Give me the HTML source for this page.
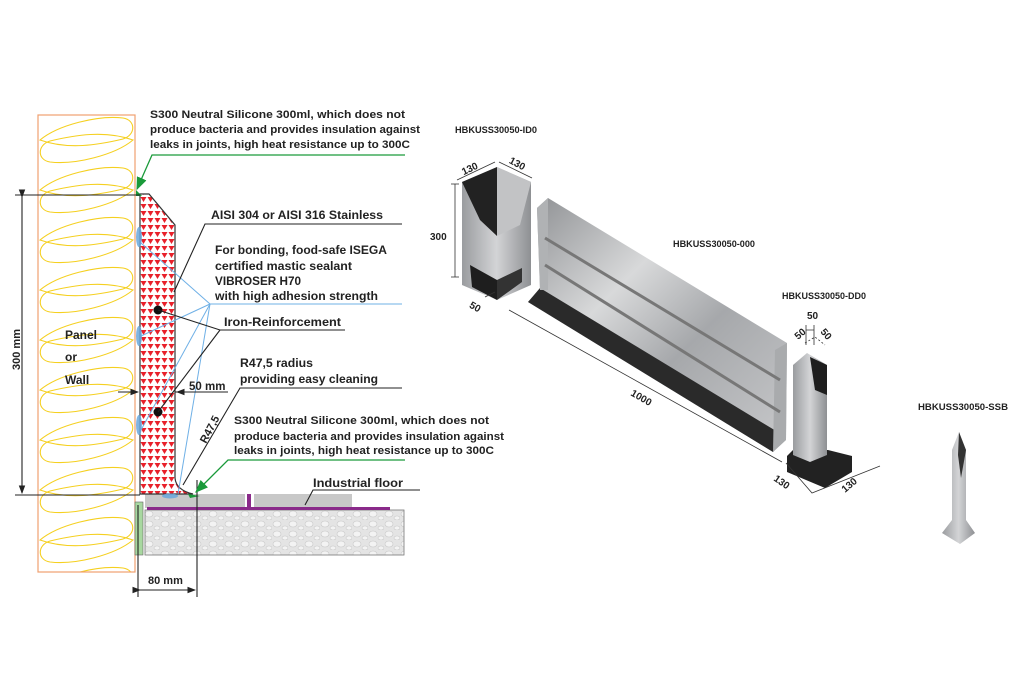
<!DOCTYPE html>
<html><head><meta charset="utf-8"><style>
html,body{margin:0;padding:0;background:#fff}
svg{display:block}
text{font-family:"Liberation Sans",sans-serif;font-weight:bold;fill:#222}
</style></head><body>
<svg width="1018" height="700" viewBox="0 0 1018 700" xmlns="http://www.w3.org/2000/svg">
<defs>
<pattern id="tri" width="7" height="7" patternUnits="userSpaceOnUse">
<rect width="7" height="7" fill="#fff"/><path d="M0.5 1 L6.5 1 L3.5 6 Z" fill="#e8202a"/>
</pattern>
<pattern id="stone" width="16" height="10" patternUnits="userSpaceOnUse">
<rect width="16" height="10" fill="#e4e4e4"/><ellipse cx="5" cy="4" rx="4" ry="3" fill="#f3f3f3" stroke="#c9c9c9" stroke-width="0.6"/><ellipse cx="13" cy="8" rx="3" ry="2" fill="#f3f3f3" stroke="#c9c9c9" stroke-width="0.6"/>
</pattern>
<pattern id="ins" x="38" y="115" width="97" height="50" patternUnits="userSpaceOnUse">
<path d="M2 25 C20 10 60 0 85 3 C98 5 98 20 85 24 C60 30 30 35 2 25 Z" fill="none" stroke="#f5d020" stroke-width="1.1"/>
<path d="M95 25 C77 40 37 50 12 47 C-1 45 -1 30 12 26 C37 20 67 15 95 25 Z" fill="none" stroke="#f5d020" stroke-width="1.1"/>
</pattern>
<linearGradient id="steel" x1="0" y1="0" x2="1" y2="1">
<stop offset="0" stop-color="#8d8f92"/><stop offset="0.35" stop-color="#d8d9da"/><stop offset="0.6" stop-color="#a6a8ab"/><stop offset="1" stop-color="#c8c9cb"/>
</linearGradient>
<linearGradient id="steel2" x1="0" y1="0" x2="1" y2="0">
<stop offset="0" stop-color="#9a9c9f"/><stop offset="0.5" stop-color="#d3d4d6"/><stop offset="1" stop-color="#8e9093"/>
</linearGradient>
<marker id="ah" markerWidth="8" markerHeight="8" refX="7" refY="4" orient="auto"><path d="M0 1 L8 4 L0 7 Z" fill="#222"/></marker>
<marker id="ag" markerWidth="10" markerHeight="10" refX="9" refY="5" orient="auto"><path d="M0 1 L10 5 L0 9 Z" fill="#1a9a3a"/></marker>
</defs>

<!-- panel -->
<rect x="38" y="115" width="97" height="457" fill="url(#ins)" stroke="#f0a070" stroke-width="1.2"/>
<text x="65" y="339" font-size="12">Panel</text>
<text x="65" y="361" font-size="12">or</text>
<text x="65" y="384" font-size="12">Wall</text>

<!-- floor -->
<rect x="145" y="510" width="259" height="45" fill="url(#stone)" stroke="#777" stroke-width="0.8"/>
<rect x="135" y="502" width="8" height="53" fill="#a8d8a0" stroke="#666" stroke-width="0.6"/>
<rect x="145" y="494" width="100" height="14" fill="#c8c8c8"/>
<rect x="254" y="494" width="98" height="14" fill="#c8c8c8"/>
<rect x="147" y="507" width="243" height="3" fill="#8a2a8a"/>
<rect x="247" y="494" width="4" height="14" fill="#8a2a8a"/>

<!-- profile -->
<path d="M140 194 L149 194 L175 225 L175 478 Q176 490 193 494 L140 494 Z" fill="url(#tri)" stroke="#333" stroke-width="1.2"/>
<g fill="#6aa8dc" opacity="0.85">
<ellipse cx="139" cy="237" rx="3" ry="10"/><ellipse cx="139" cy="336" rx="3" ry="10"/><ellipse cx="139" cy="425" rx="3" ry="10"/><ellipse cx="170" cy="496" rx="8" ry="2.5"/>
</g>
<path d="M136 190 L142 196 L136 196 Z" fill="#1a9a3a"/>
<path d="M188 494 L200 496 L190 498 Z" fill="#1a9a3a"/>
<circle cx="158" cy="310" r="4.5" fill="#111"/><circle cx="158" cy="412" r="4.5" fill="#111"/>

<!-- blue leaders -->
<g stroke="#6fb0e6" stroke-width="1" fill="none">
<path d="M402 304 L210 304 L141 243"/><path d="M210 304 L141 336"/><path d="M210 304 L141 430"/><path d="M210 304 L178 494"/>
</g>

<!-- black leaders -->
<g stroke="#222" stroke-width="1.1" fill="none">
<path d="M402 224 L205 224 L174 292"/>
<path d="M345 330 L220 330 L158 310"/><path d="M220 330 L158 412"/>
<path d="M402 388 L240 388 L183 485"/>
<path d="M420 490 L313 490 L305 505"/>
<path d="M15 195 L140 195"/><path d="M15 495 L140 495"/>
<path d="M22 197 L22 493" marker-start="url(#ah)" marker-end="url(#ah)"/>
<path d="M118 392 L138 392" marker-end="url(#ah)"/><path d="M195 392 L177 392" marker-end="url(#ah)"/><path d="M175 392 L228 392"/>
<path d="M138 505 L138 597"/><path d="M197 480 L197 597"/>
<path d="M140 590 L195 590" marker-start="url(#ah)" marker-end="url(#ah)"/>
</g>
<g stroke="#1a9a3a" stroke-width="1.3" fill="none">
<path d="M405 155 L152 155 L137 189" marker-end="url(#ag)"/>
<path d="M405 460 L228 460 L196 492" marker-end="url(#ag)"/>
</g>

<text x="150" y="118" font-size="11" textLength="255" lengthAdjust="spacingAndGlyphs">S300 Neutral Silicone 300ml, which does not</text>
<text x="150" y="133" font-size="11" textLength="270" lengthAdjust="spacingAndGlyphs">produce bacteria and provides insulation against</text>
<text x="150" y="148" font-size="11" textLength="260" lengthAdjust="spacingAndGlyphs">leaks in joints, high heat resistance up to 300C</text>
<text x="211" y="219" font-size="11.5" textLength="172" lengthAdjust="spacingAndGlyphs">AISI 304 or AISI 316 Stainless</text>
<text x="215" y="254" font-size="11.5" textLength="172" lengthAdjust="spacingAndGlyphs">For bonding, food-safe ISEGA</text>
<text x="215" y="270" font-size="11.5" textLength="137" lengthAdjust="spacingAndGlyphs">certified mastic sealant</text>
<text x="215" y="285" font-size="11.5" textLength="86" lengthAdjust="spacingAndGlyphs">VIBROSER H70</text>
<text x="215" y="300" font-size="11.5" textLength="163" lengthAdjust="spacingAndGlyphs">with high adhesion strength</text>
<text x="224" y="326" font-size="11.5" textLength="117" lengthAdjust="spacingAndGlyphs">Iron-Reinforcement</text>
<text x="240" y="367" font-size="11.5" textLength="73" lengthAdjust="spacingAndGlyphs">R47,5 radius</text>
<text x="240" y="383" font-size="11.5" textLength="138" lengthAdjust="spacingAndGlyphs">providing easy cleaning</text>
<text x="189" y="390" font-size="11.5">50 mm</text>
<text x="0" y="0" font-size="11" font-weight="normal" transform="translate(206 444) rotate(-62)">R47,5</text>
<text x="234" y="424" font-size="11" textLength="255" lengthAdjust="spacingAndGlyphs">S300 Neutral Silicone 300ml, which does not</text>
<text x="234" y="440" font-size="11" textLength="270" lengthAdjust="spacingAndGlyphs">produce bacteria and provides insulation against</text>
<text x="234" y="454" font-size="11" textLength="260" lengthAdjust="spacingAndGlyphs">leaks in joints, high heat resistance up to 300C</text>
<text x="313" y="487" font-size="11.5" textLength="90" lengthAdjust="spacingAndGlyphs">Industrial floor</text>
<text x="148" y="584" font-size="11">80 mm</text>
<text x="0" y="0" font-size="11" transform="translate(20 370) rotate(-90)">300 mm</text>

<!-- right: ID0 -->
<text x="455" y="133" font-size="9" textLength="82" lengthAdjust="spacingAndGlyphs">HBKUSS30050-ID0</text>
<path d="M462 182 L497 167 L531 182 L531 285 L497 300 L462 285 Z" fill="url(#steel2)"/>
<path d="M462 182 L497 167 L497 236 L480 220 L462 182 Z" fill="#222"/>
<path d="M497 167 L531 182 L520 225 L497 236 Z" fill="#c2c3c5"/>
<path d="M470 265 L497 280 L497 300 L472 287 Z" fill="#1e1e1e"/>
<path d="M497 280 L522 268 L522 282 L497 300 Z" fill="#333"/>
<g stroke="#333" stroke-width="0.8" fill="none">
<path d="M457 180 L495 162"/><path d="M499 162 L532 178"/>
<path d="M455 184 L455 277"/><path d="M451 184 L459 184"/><path d="M451 277 L459 277"/>
<path d="M485 297 L495 292"/>
</g>
<text x="462" y="172" font-size="10" font-weight="normal" fill="#333" transform="rotate(-25 470 170)">130</text>
<text x="508" y="166" font-size="10" font-weight="normal" fill="#333" transform="rotate(28 515 165)">130</text>
<text x="430" y="240" font-size="10" font-weight="normal" fill="#333">300</text>
<text x="470" y="310" font-size="10" font-weight="normal" fill="#333" transform="rotate(30 475 306)">50</text>

<!-- long bar -->
<path d="M537 208 L548 198 L787 343 L786 440 L773 452 L528 302 L540 290 Z" fill="url(#steel)"/>
<path d="M528 302 L540 288 L786 437 L773 452 Z" fill="#2a2a2a"/>
<path d="M537 208 L548 198 L548 290 L540 290 Z" fill="#b0b2b4"/>
<path d="M775 350 L787 343 L786 440 L773 452 Z" fill="#a9abad"/>
<path d="M545 238 L780 380" stroke="#777" stroke-width="3"/>
<path d="M545 265 L780 412" stroke="#777" stroke-width="3"/>
<text x="673" y="247" font-size="9" textLength="82" lengthAdjust="spacingAndGlyphs">HBKUSS30050-000</text>
<path d="M509 310 L782 462" stroke="#333" stroke-width="0.8"/>
<text x="0" y="0" font-size="10" font-weight="normal" fill="#333" transform="translate(630 395) rotate(30)">1000</text>
<text x="807" y="319" font-size="10" font-weight="normal" fill="#333">50</text>
<path d="M806 325 L806 345 M814 325 L814 345 M806 330 L814 330" stroke="#333" stroke-width="0.8"/>

<!-- DD0 -->
<text x="782" y="299" font-size="9" textLength="84" lengthAdjust="spacingAndGlyphs">HBKUSS30050-DD0</text>
<path d="M787 456 L793 450 L828 450 L852 456 L852 472 L825 488 L787 472 Z" fill="#222"/>
<path d="M793 365 L807 353 L827 365 L827 455 L810 462 L793 455 Z" fill="url(#steel2)"/>
<path d="M810 357 L827 365 L827 395 L815 390 Z" fill="#1e1e1e"/>
<path d="M805 343 L815 337 L825 345" stroke="#333" stroke-width="0.8" stroke-dasharray="2 2" fill="none"/>
<text x="0" y="0" font-size="10" font-weight="normal" fill="#333" transform="translate(798 340) rotate(-40)">50</text>
<text x="0" y="0" font-size="10" font-weight="normal" fill="#333" transform="translate(820 332) rotate(50)">50</text>
<path d="M786 463 L812 493 L880 466" stroke="#333" stroke-width="0.8" fill="none"/>
<text x="0" y="0" font-size="10" font-weight="normal" fill="#333" transform="translate(773 480) rotate(35)">130</text>
<text x="0" y="0" font-size="10" font-weight="normal" fill="#333" transform="translate(845 493) rotate(-40)">130</text>

<!-- SSB -->
<text x="918" y="410" font-size="9" textLength="90" lengthAdjust="spacingAndGlyphs">HBKUSS30050-SSB</text>
<path d="M959 432 L966 450 L966 520 L975 533 L960 544 L942 533 L952 520 L952 450 Z" fill="url(#steel2)"/>
<path d="M959 432 L966 450 L961 478 L958 455 Z" fill="#333"/>
</svg>
</body></html>
